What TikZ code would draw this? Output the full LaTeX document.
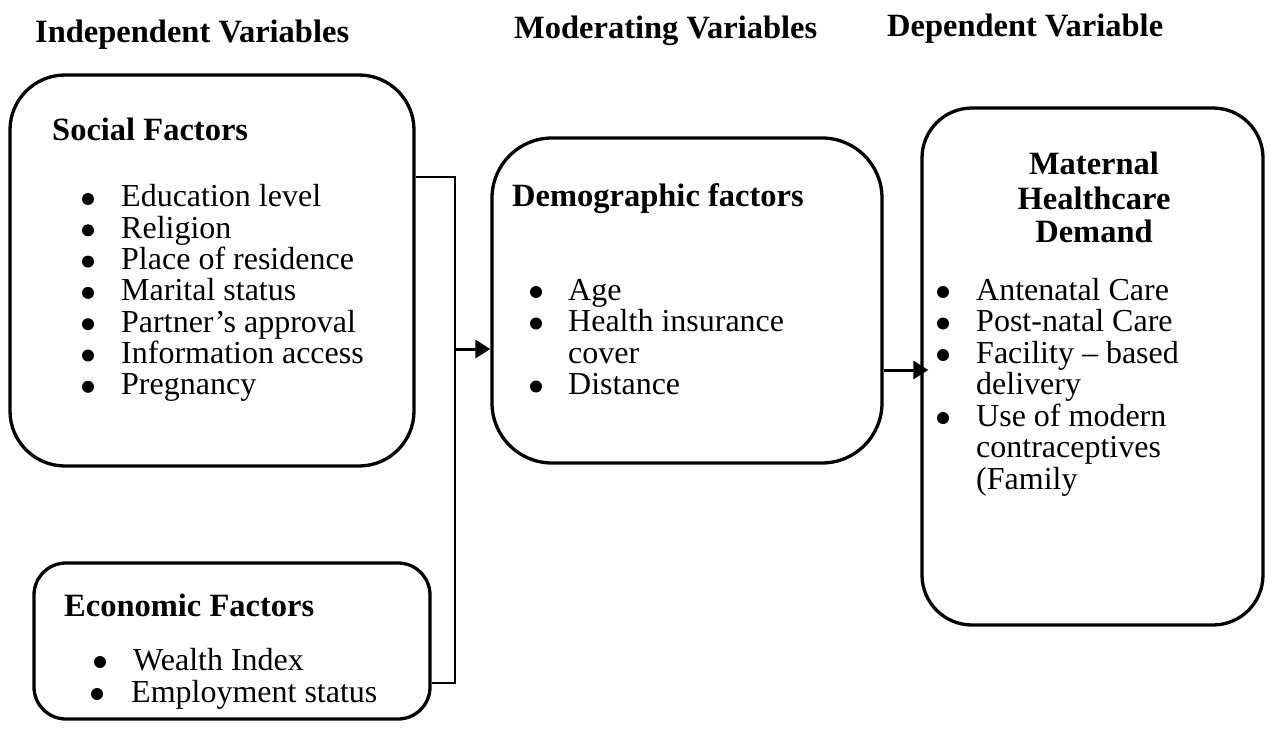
\documentclass[tikz,border=0pt]{standalone}
\usepackage{fontspec}
\setmainfont{Liberation Serif}
\usetikzlibrary{arrows.meta}
\begin{document}
\begin{tikzpicture}[x=1pt,y=-1pt,
  box/.style={draw, line width=3.3pt, inner sep=0pt},
  txt/.style={anchor=base west, inner sep=0pt, font=\fontsize{32}{34}\selectfont},
  hd/.style={anchor=base west, inner sep=0pt, font=\fontsize{32.5}{34}\selectfont\bfseries},
  bul/.style={circle, fill, inner sep=0pt, minimum size=12pt},
  conn/.style={line width=2.2pt},
  arr/.style={line width=3pt, -{Triangle[length=15pt,width=18pt]}}]
\path[use as bounding box, fill=white] (0,0) rectangle (1272,749);

% boxes
\node[box, rounded corners=55pt, minimum width=404pt, minimum height=391pt] (social) at (212,270.5) {};
\node[box, rounded corners=32pt, minimum width=396pt, minimum height=156pt] (econ) at (232,641) {};
\node[box, rounded corners=60pt, minimum width=390pt, minimum height=325pt] (demo) at (687,300.5) {};
\node[box, rounded corners=50pt, minimum width=341pt, minimum height=517pt] (mat) at (1092.5,366.5) {};

% headings
\node[hd] (h1) at (35,43) {Independent Variables};
\node[hd] (h2) at (514,39) {Moderating Variables};
\node[hd] (h3) at (887,37) {Dependent Variable};

% social factors
\node[hd] (sh) at (52,141) {Social Factors};
\foreach \t [count=\i] in {Education level, Religion, Place of residence, Marital status, Partner’s approval, Information access, Pregnancy} {
  \node[txt] (s\i) at (121,{207+31.3*(\i-1)}) {\t};
  \node[bul] (sb\i) at (88,{199+31.3*(\i-1)}) {};
}

% economic factors
\node[hd] (eh) at (64,616) {Economic Factors};
\node[txt] (e1) at (133,670) {Wealth Index};
\node[bul] (eb1) at (100,662) {};
\node[txt] (e2) at (131,702) {Employment status};
\node[bul] (eb2) at (97,694) {};

% demographic factors
\node[hd] (dh) at (512,207) {Demographic factors};
\node[txt] (d1) at (568,300) {Age};
\node[bul] (db1) at (536,292) {};
\node[txt] (d2) at (568,331.5) {Health insurance};
\node[bul] (db2) at (536,323.5) {};
\node[txt] (d3) at (568,363) {cover};
\node[txt] (d4) at (568,394.5) {Distance};
\node[bul] (db4) at (536,386.5) {};

% maternal healthcare demand
\node[hd, anchor=base] (mh1) at (1094,175) {Maternal};
\node[hd, anchor=base] (mh2) at (1094,209) {Healthcare};
\node[hd, anchor=base] (mh3) at (1094,242) {Demand};
\node[txt] (m1) at (976,300) {Antenatal Care};
\node[bul] (mb1) at (943,292) {};
\node[txt] (m2) at (976,331.5) {Post-natal Care};
\node[bul] (mb2) at (943,323.5) {};
\node[txt] (m3) at (976,363) {Facility – based};
\node[bul] (mb3) at (943,355) {};
\node[txt] (m4) at (976,394.5) {delivery};
\node[txt] (m5) at (976,426) {Use of modern};
\node[bul] (mb5) at (943,418) {};
\node[txt] (m6) at (976,457.5) {contraceptives};
\node[txt] (m7) at (976,489) {(Family};

% connectors
\coordinate (j1) at (455,177);
\coordinate (j2) at (455,683);
\coordinate (j3) at (455,349);
\coordinate (k1) at (882,370);
\draw[conn] (social.east |- j1) -- (j1) -- (j2) -- (econ.east |- j2);
\draw[arr] (j3) -- (demo.west |- j3);
\draw[arr, shorten >=-8pt] (demo.east |- k1) -- (mat.west |- k1);
\end{tikzpicture}
\end{document}
